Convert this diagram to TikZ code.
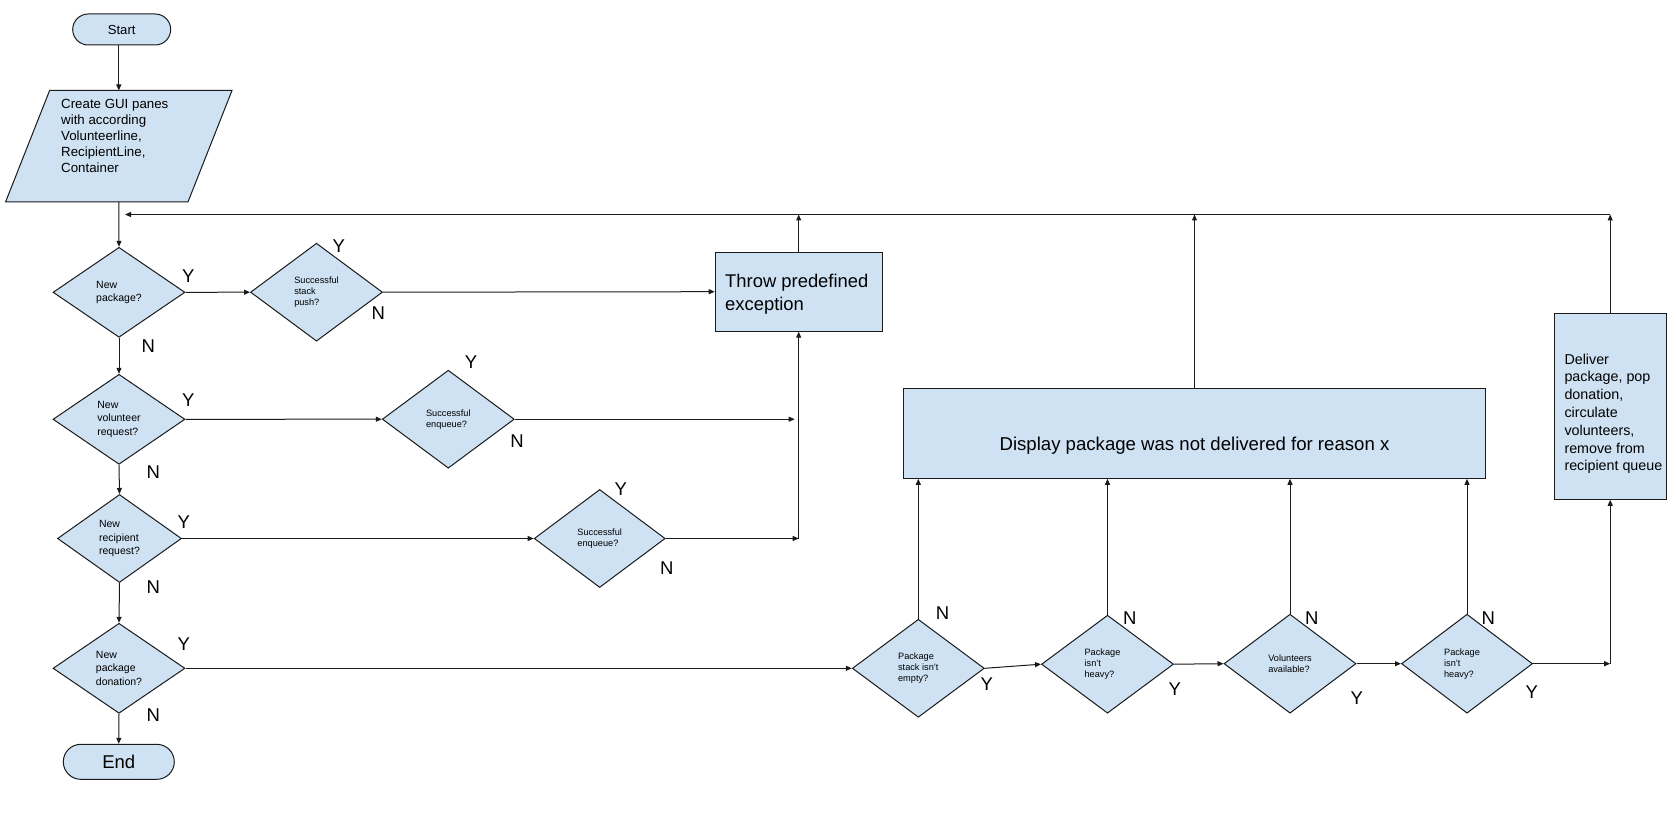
\documentclass[tikz,border=0pt]{standalone}
\usepackage{fontspec}
\setmainfont{Liberation Sans}
\usetikzlibrary{shapes.geometric,arrows.meta,calc}
\definecolor{boxblue}{HTML}{CFE2F3}
\definecolor{ink}{HTML}{1A1A1A}
\newcommand\setfs[2]{\fontsize{#1}{#2}\selectfont}

\tikzset{
  outline/.style={draw=ink, fill=boxblue, line width=1pt},
  shapebase/.style={outline, inner sep=0pt},
  pill/.style={shapebase, rectangle, rounded corners=#1},
  box/.style={shapebase, rectangle},
  boxtext/.style={anchor=north west, inner sep=0pt, align=left},
  decision/.style={shapebase, diamond, align=left, minimum width=132, minimum height=90,
                   font=\setfs{10.5}{13.3}},
  smalldecision/.style={decision, minimum height=98, font=\setfs{9.2}{11}},
  yn/.style={inner sep=0pt, font=\setfs{18.5}{20}},
  conn/.style={draw=ink, line width=1pt, -{Triangle[length=6pt,width=5pt]}},
}

\begin{document}
\begin{tikzpicture}[x=1pt, y=-1pt]
\useasboundingbox (0,0) rectangle (1676,826);

% start / end terminals
\node[pill=15.5, minimum width=98, minimum height=31, font=\setfs{13.1}{15}] (start) at (121.7,29.5) {Start};
\node[pill=17.5, minimum width=111, minimum height=35, font=\setfs{18.5}{22}] (end) at (118.8,761.8) {End};

% input parallelogram
\node[inner sep=0pt, minimum width=182, minimum height=111] (para) at (118.8,146.2) {};
\path[outline] ($(para.north west)+(22,0)$) -- ($(para.north east)+(22,0)$)
   -- ($(para.south east)+(-22,0)$) -- ($(para.south west)+(-22,0)$) -- cycle;
\node[boxtext, font=\setfs{13.3}{15.9}] (paratext) at (61,99.5)
  {Create GUI panes\\with according\\Volunteerline,\\RecipientLine,\\Container};

% main decision column
\node[decision] (np) at (119,292.3) {New\\package?};
\node[decision] (nv) at (119,419.3) {New\\volunteer\\request?};
\node[decision, minimum width=124, minimum height=88] (nr) at (119.5,538.5) {New\\recipient\\request?};
\node[decision] (npd) at (119,668.3) {New\\package\\donation?};

% success checks
\node[smalldecision] (ssp) at (316.5,292.2) {Successful\\stack\\push?};
\node[smalldecision] (se1) at (448.3,419.2) {Successful\\enqueue?};
\node[smalldecision, minimum width=131] (se2) at (599.7,538.5) {Successful\\enqueue?};

% delivery checks
\node[smalldecision] (pse) at (918.3,668.3) {Package\\stack isn’t\\empty?};
\node[smalldecision] (pih1) at (1107.5,664.2) {\hspace*{-10pt}Package\\\hspace*{-10pt}isn’t\\\hspace*{-10pt}heavy?};
\node[smalldecision, minimum height=99] (va) at (1290,663.7) {Volunteers\\available?};
\node[smalldecision, minimum width=131, minimum height=99] (pih2) at (1467,663.7) {\hspace*{-10pt}Package\\\hspace*{-10pt}isn’t\\\hspace*{-10pt}heavy?};

% process boxes
\node[box, minimum width=167, minimum height=79] (throw) at (798.7,291.7) {};
\node[boxtext, font=\setfs{18.4}{22.7}] (throwtext) at (725,274.3) {Throw predefined\\exception};
\node[box, minimum width=582.4, minimum height=90] (disp) at (1194.5,433.3) {};
\node[anchor=base, inner sep=0pt, font=\setfs{18.6}{22}] (disptext) at (1194.5,450)
  {Display package was not delivered for reason x};
\node[box, minimum width=111.7, minimum height=186] (deliver) at (1610.2,406.3) {};
\node[boxtext, font=\setfs{14.3}{17.8}] (delivertext) at (1564.3,353.6)
  {Deliver\\package, pop\\donation,\\circulate\\volunteers,\\remove from\\recipient queue};

% loop-back line
\coordinate (loopR) at (1610.2,214.5);
\coordinate (loopL) at (125,214.5);
\draw[conn] (loopR) -- (loopL);
\draw[conn] (deliver.north) -- (loopR);
\draw[conn] (throw.north) -- (throw.north |- loopR);
\draw[conn] (disp.north) -- (disp.north |- loopR);

% main column flow
\draw[conn] (start.south -| para.north) -- (para.north);
\draw[conn] (para.south) -- (np.north);
\draw[conn] (np.south) -- (nv.north);
\draw[conn] (nv.south) -- (nr.north);
\draw[conn] (nr.south) -- (npd.north);
\draw[conn] (npd.south) -- (end.north);

% yes branches
\draw[conn] (np.east) -- (ssp.west);
\draw[conn] (nv.east) -- (se1.west);
\draw[conn] (nr.east) -- (se2.west);
\draw[conn] (npd.east) -- (pse.west);

% failures into the exception box
\draw[conn] (ssp.east) -- (throw.west);
\coordinate (j1) at ($(throw.south |- se1.east)+(-4,0)$);
\draw[conn] (se1.east) -- (j1);
\coordinate (j2) at (throw.south |- se2.east);
\draw[conn] (se2.east) -- (j2);
\draw[conn] (j2) -- (throw.south);

% delivery chain
\draw[conn] (pse.east) -- (pih1.west);
\draw[conn] (pih1.east) -- (va.west);
\draw[conn] (va.east) -- (pih2.west);
\coordinate (j3) at (deliver.south |- pih2.east);
\draw[conn] (pih2.east) -- (j3);
\draw[conn] (j3) -- (deliver.south);

% failures into the message box
\draw[conn] (pse.north) -- (pse.north |- disp.south);
\draw[conn] (pih1.north) -- (pih1.north |- disp.south);
\draw[conn] (va.north) -- (va.north |- disp.south);
\draw[conn] (pih2.north) -- (pih2.north |- disp.south);

% Y / N labels
\node[yn] (npY) at (188.3,276) {Y};
\node[yn] (npN) at (148.3,346) {N};
\node[yn] (sspY) at (338.7,246) {Y};
\node[yn] (sspN) at (378.3,312.7) {N};
\node[yn] (nvY) at (188.3,400.3) {Y};
\node[yn] (nvN) at (153.3,472) {N};
\node[yn] (nrY) at (183.8,522.2) {Y};
\node[yn] (nrN) at (153.3,587) {N};
\node[yn] (npdY) at (183.8,643.7) {Y};
\node[yn] (npdN) at (153.3,714.7) {N};
\node[yn] (se1Y) at (471,361.7) {Y};
\node[yn] (se1N) at (517,441) {N};
\node[yn] (se2Y) at (620.8,489.3) {Y};
\node[yn] (se2N) at (666.7,568.3) {N};
\node[yn] (pseN) at (942.5,613) {N};
\node[yn] (pseY) at (986.7,684.5) {Y};
\node[yn] (pih1N) at (1129.8,617.8) {N};
\node[yn] (pih1Y) at (1174.8,688.8) {Y};
\node[yn] (vaN) at (1311.8,617.8) {N};
\node[yn] (vaY) at (1356.7,698.3) {Y};
\node[yn] (pih2N) at (1488.3,617.8) {N};
\node[yn] (pih2Y) at (1531.7,692.2) {Y};
\end{tikzpicture}
\end{document}
